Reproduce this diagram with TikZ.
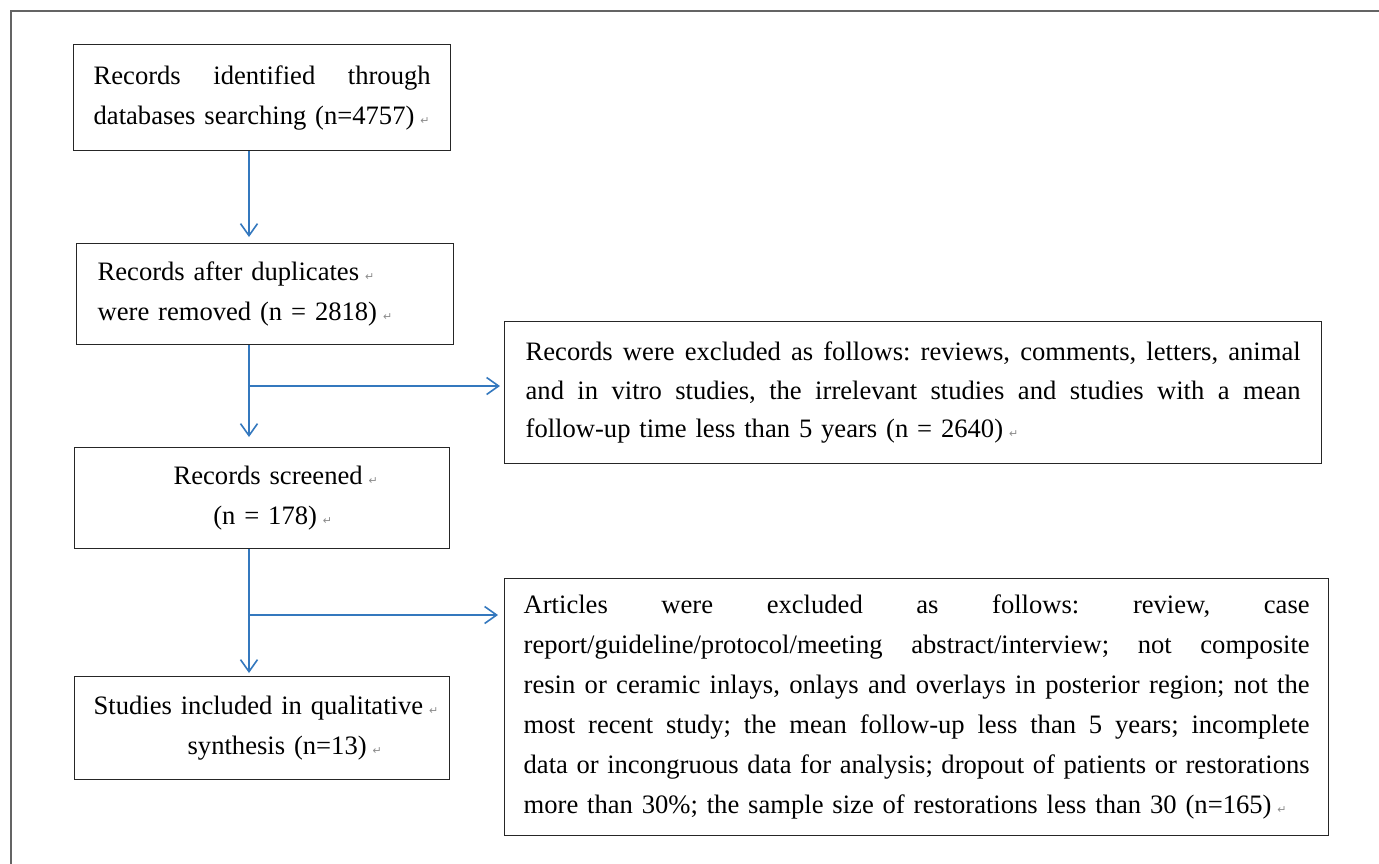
\documentclass[tikz,border=0pt]{standalone}
\usepackage{fontspec}
\setmainfont{Liberation Serif}
\newfontfamily\dejavu{DejaVu Sans}
\usetikzlibrary{arrows.meta}
\definecolor{arrowblue}{RGB}{52,120,190}
\definecolor{framegray}{RGB}{100,100,100}
\definecolor{markgray}{RGB}{140,140,140}
\newcommand\retmark{\rlap{\hspace{6pt}\textcolor{markgray}{\dejavu\fontsize{11}{11}\selectfont ↵}}}
\newcommand\jline[1]{\leavevmode\hbox to \hsize{\spaceskip=0.25em plus 1fil minus 0.1em\relax #1}\\}
\begin{document}
\frenchspacing
\begin{tikzpicture}[x=1pt,y=-1pt,
  box/.style={draw=black!85, line width=1.3pt, anchor=north west, inner ysep=0pt,
    font=\fontsize{26.6}{40}\selectfont\frenchspacing},
  arr/.style={draw=arrowblue, line width=1.6pt, -{Straight Barb[length=12pt,width=17pt]}}]
\useasboundingbox (0,0) rectangle (1379,863);
\draw[framegray, line width=2pt] (11,880) -- (11,11) -- (1400,11);

\node[box, minimum width=377pt, minimum height=106pt, text width=337pt, inner xsep=20pt, align=left] (b1) at (73,44)
  {\jline{Records identified through}databases searching (n=4757)\retmark};
\node[box, minimum width=377pt, minimum height=101pt, text width=335pt, inner xsep=21pt, align=left] (b2) at (76,243)
  {Records after duplicates\retmark\\were removed (n = 2818)\retmark};
\node[box, minimum width=375pt, minimum height=101pt, text width=335pt, inner xsep=20pt, align=center] (b3) at (74,447)
  {\hspace*{12pt}Records screened\retmark\\\hspace*{6pt}(n = 178)\retmark};
\node[box, minimum width=375pt, minimum height=103pt, text width=337pt, inner xsep=19pt, align=left] (b4) at (74,676)
  {Studies included in qualitative\retmark\\\hspace*{94pt}synthesis (n=13)\retmark};

\node[box, minimum width=817pt, minimum height=142pt, text width=775pt, inner xsep=21pt, align=left,
  font=\fontsize{26.6}{38.5}\selectfont\frenchspacing] (e1) at (504,321)
  {\jline{Records were excluded as follows: reviews, comments, letters, animal}\jline{and in vitro studies, the irrelevant studies and studies with a mean}follow-up time less than 5 years (n = 2640)\retmark};
\node[box, minimum width=824pt, minimum height=257pt, text width=786pt, inner xsep=19pt, align=left] (e2) at (504,578)
  {\jline{Articles were excluded as follows: review, case}\jline{report/guideline/protocol/meeting abstract/interview; not composite}\jline{resin or ceramic inlays, onlays and overlays in posterior region; not the}\jline{most recent study; the mean follow-up less than 5 years; incomplete}\jline{data or incongruous data for analysis; dropout of patients or restorations}more than 30\%; the sample size of restorations less than 30 (n=165)\retmark};

\coordinate (ax) at (249,0);
\coordinate (br1) at (249,386);
\coordinate (br2) at (249,615);
\draw[arr, shorten >=6pt] (b1.south -| ax) -- (b2.north -| ax);
\draw[arr, shorten >=10pt] (b2.south -| ax) -- (b3.north -| ax);
\draw[arr, shorten >=4pt] (br1) -- (e1.west |- br1);
\draw[arr, shorten >=3pt] (b3.south -| ax) -- (b4.north -| ax);
\draw[arr, shorten >=6pt] (br2) -- (e2.west |- br2);
\end{tikzpicture}
\end{document}
